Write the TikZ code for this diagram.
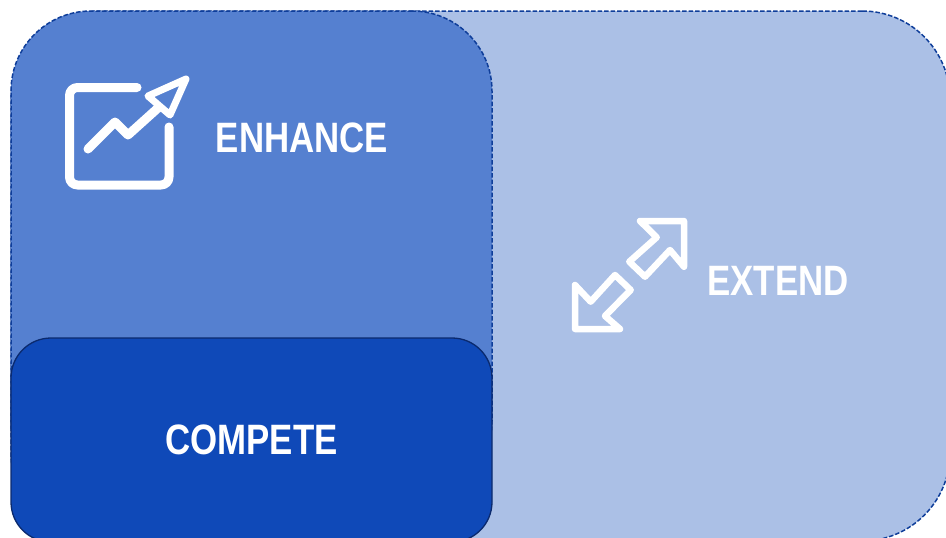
\documentclass[tikz,border=0pt]{standalone}
\usepackage{fontspec}
\setmainfont[FakeStretch=0.82]{Liberation Sans}
\definecolor{extendblue}{HTML}{ABC0E6}
\definecolor{enhanceblue}{HTML}{5580D0}
\definecolor{competeblue}{HTML}{0F49B8}
\definecolor{dashblue}{HTML}{0F3E9A}
\definecolor{competeline}{HTML}{0B2A6E}
\tikzstyle{dashedbox} = [rectangle, anchor=north west, inner sep=0pt, outer sep=0pt, draw=dashblue, line width=1.5pt, dash pattern=on 4.5pt off 2pt]
\tikzstyle{solidbox} = [rectangle, anchor=north west, inner sep=0pt, outer sep=0pt, draw=competeline, line width=1.3pt, fill=competeblue, text=white, font=\bfseries\fontsize{42.5}{42.5}\selectfont]
\tikzstyle{boxlabel} = [text=white, inner sep=0pt, font=\bfseries\fontsize{42.5}{42.5}\selectfont]
\tikzstyle{iconline} = [draw=white, line cap=round, line join=round]

\begin{document}
\begin{tikzpicture}[x=1pt, y=-1pt]
    \useasboundingbox (0,0) rectangle (946,538);

    \node (extend) [dashedbox, fill=extendblue, rounded corners=88pt, minimum width=939pt, minimum height=530pt] at (11,11) {};
    \node (enhance) [dashedbox, fill=enhanceblue, rounded corners=80pt, minimum width=481pt, minimum height=490pt] at (11,11) {};
    \node (compete) [solidbox, rounded corners=40pt, minimum width=481pt, minimum height=204pt] at (11,338) {COMPETE};

    \node (enhancetext) [boxlabel] at (302,138) {ENHANCE};
    \node (extendtext) [boxlabel] at (778,281) {EXTEND};

    % chart icon
    \draw [iconline, line width=9pt, rounded corners=8pt] (137,87.5) -- (69.5,87.5) -- (69.5,185) -- (169,185) -- (169,127);
    \draw [iconline, line width=9pt] (88,149) -- (115,122) -- (128,135) -- (158,108);
    \draw [iconline, line width=7pt] (186,79) -- (148,96) -- (170,115) -- cycle;

    % double arrow icon
    \draw [iconline, line width=6.5pt] (684,221) -- (640,221) -- (656.7,237.3) -- (629.3,261.7) -- (645,276.7) -- (670,250) -- (684,266.7) -- cycle;
    \draw [iconline, line width=6.5pt] (575,329) -- (575,285) -- (590.7,301.7) -- (615,275) -- (630.7,290) -- (605,316) -- (620,329) -- cycle;
\end{tikzpicture}
\end{document}
